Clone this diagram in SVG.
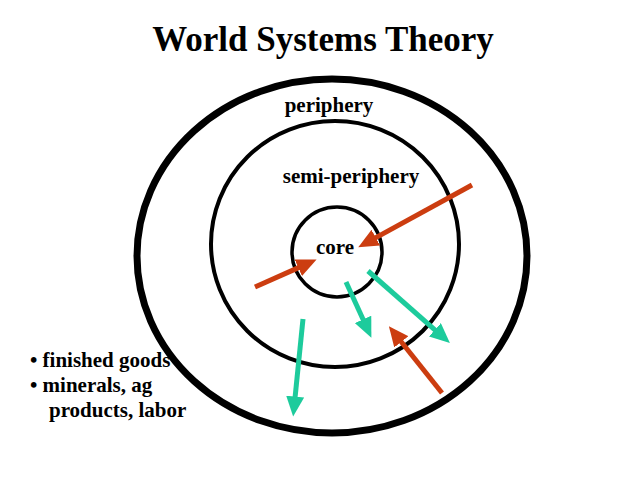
<svg xmlns="http://www.w3.org/2000/svg" width="638" height="479" viewBox="0 0 638 479">
<style>
.ring{fill:none;stroke:#000}
.red{stroke:#CC3D10;stroke-width:5;fill:none}
.teal{stroke:#1DCB9C;stroke-width:5;fill:none}
</style>
<defs>
<marker id="hr" viewBox="0 0 4 3.6" refX="0.3" refY="1.8" markerWidth="4" markerHeight="3.6" orient="auto" markerUnits="strokeWidth"><path d="M0,0 L4,1.8 L0,3.6 z" fill="#CC3D10"/></marker>
<marker id="ht" viewBox="0 0 4 3.6" refX="0.3" refY="1.8" markerWidth="4" markerHeight="3.6" orient="auto" markerUnits="strokeWidth"><path d="M0,0 L4,1.8 L0,3.6 z" fill="#1DCB9C"/></marker>
</defs>
<rect width="638" height="479" fill="#fff"/>
<g font-family="Liberation Serif, Times New Roman, serif" font-weight="bold" fill="#000">
<text x="323" y="51" font-size="35" text-anchor="middle">World Systems Theory</text>
<g id="periphery"><ellipse class="ring" cx="332" cy="256" rx="195" ry="177" stroke-width="7"/><text x="329" y="112" font-size="21" text-anchor="middle">periphery</text></g>
<g id="semi-periphery"><ellipse class="ring" cx="335" cy="244" rx="124" ry="123" stroke-width="4"/><text x="351" y="183" font-size="21" text-anchor="middle">semi-periphery</text></g>
<g id="core"><circle class="ring" cx="337" cy="252" r="45" stroke-width="3.5"/><text x="335" y="254" font-size="21" text-anchor="middle">core</text></g>
<g id="legend" font-size="21">
<text x="30" y="367">• finished goods</text>
<text x="30" y="392">• minerals, ag</text>
<text x="49" y="417">products, labor</text>
</g>
</g>
<g id="connectors">
<line class="red" x1="472" y1="185" x2="374.5" y2="238.4" marker-end="url(#hr)"/>
<line class="red" x1="255" y1="287" x2="299.7" y2="267.1" marker-end="url(#hr)"/>
<line class="red" x1="442" y1="393" x2="400.4" y2="340.7" marker-end="url(#hr)"/>
<line class="teal" x1="368" y1="271" x2="436" y2="330.8" marker-end="url(#ht)"/>
<line class="teal" x1="346" y1="282" x2="363.7" y2="320.8" marker-end="url(#ht)"/>
<line class="teal" x1="303" y1="319" x2="295" y2="398.1" marker-end="url(#ht)"/>
</g>
</svg>
